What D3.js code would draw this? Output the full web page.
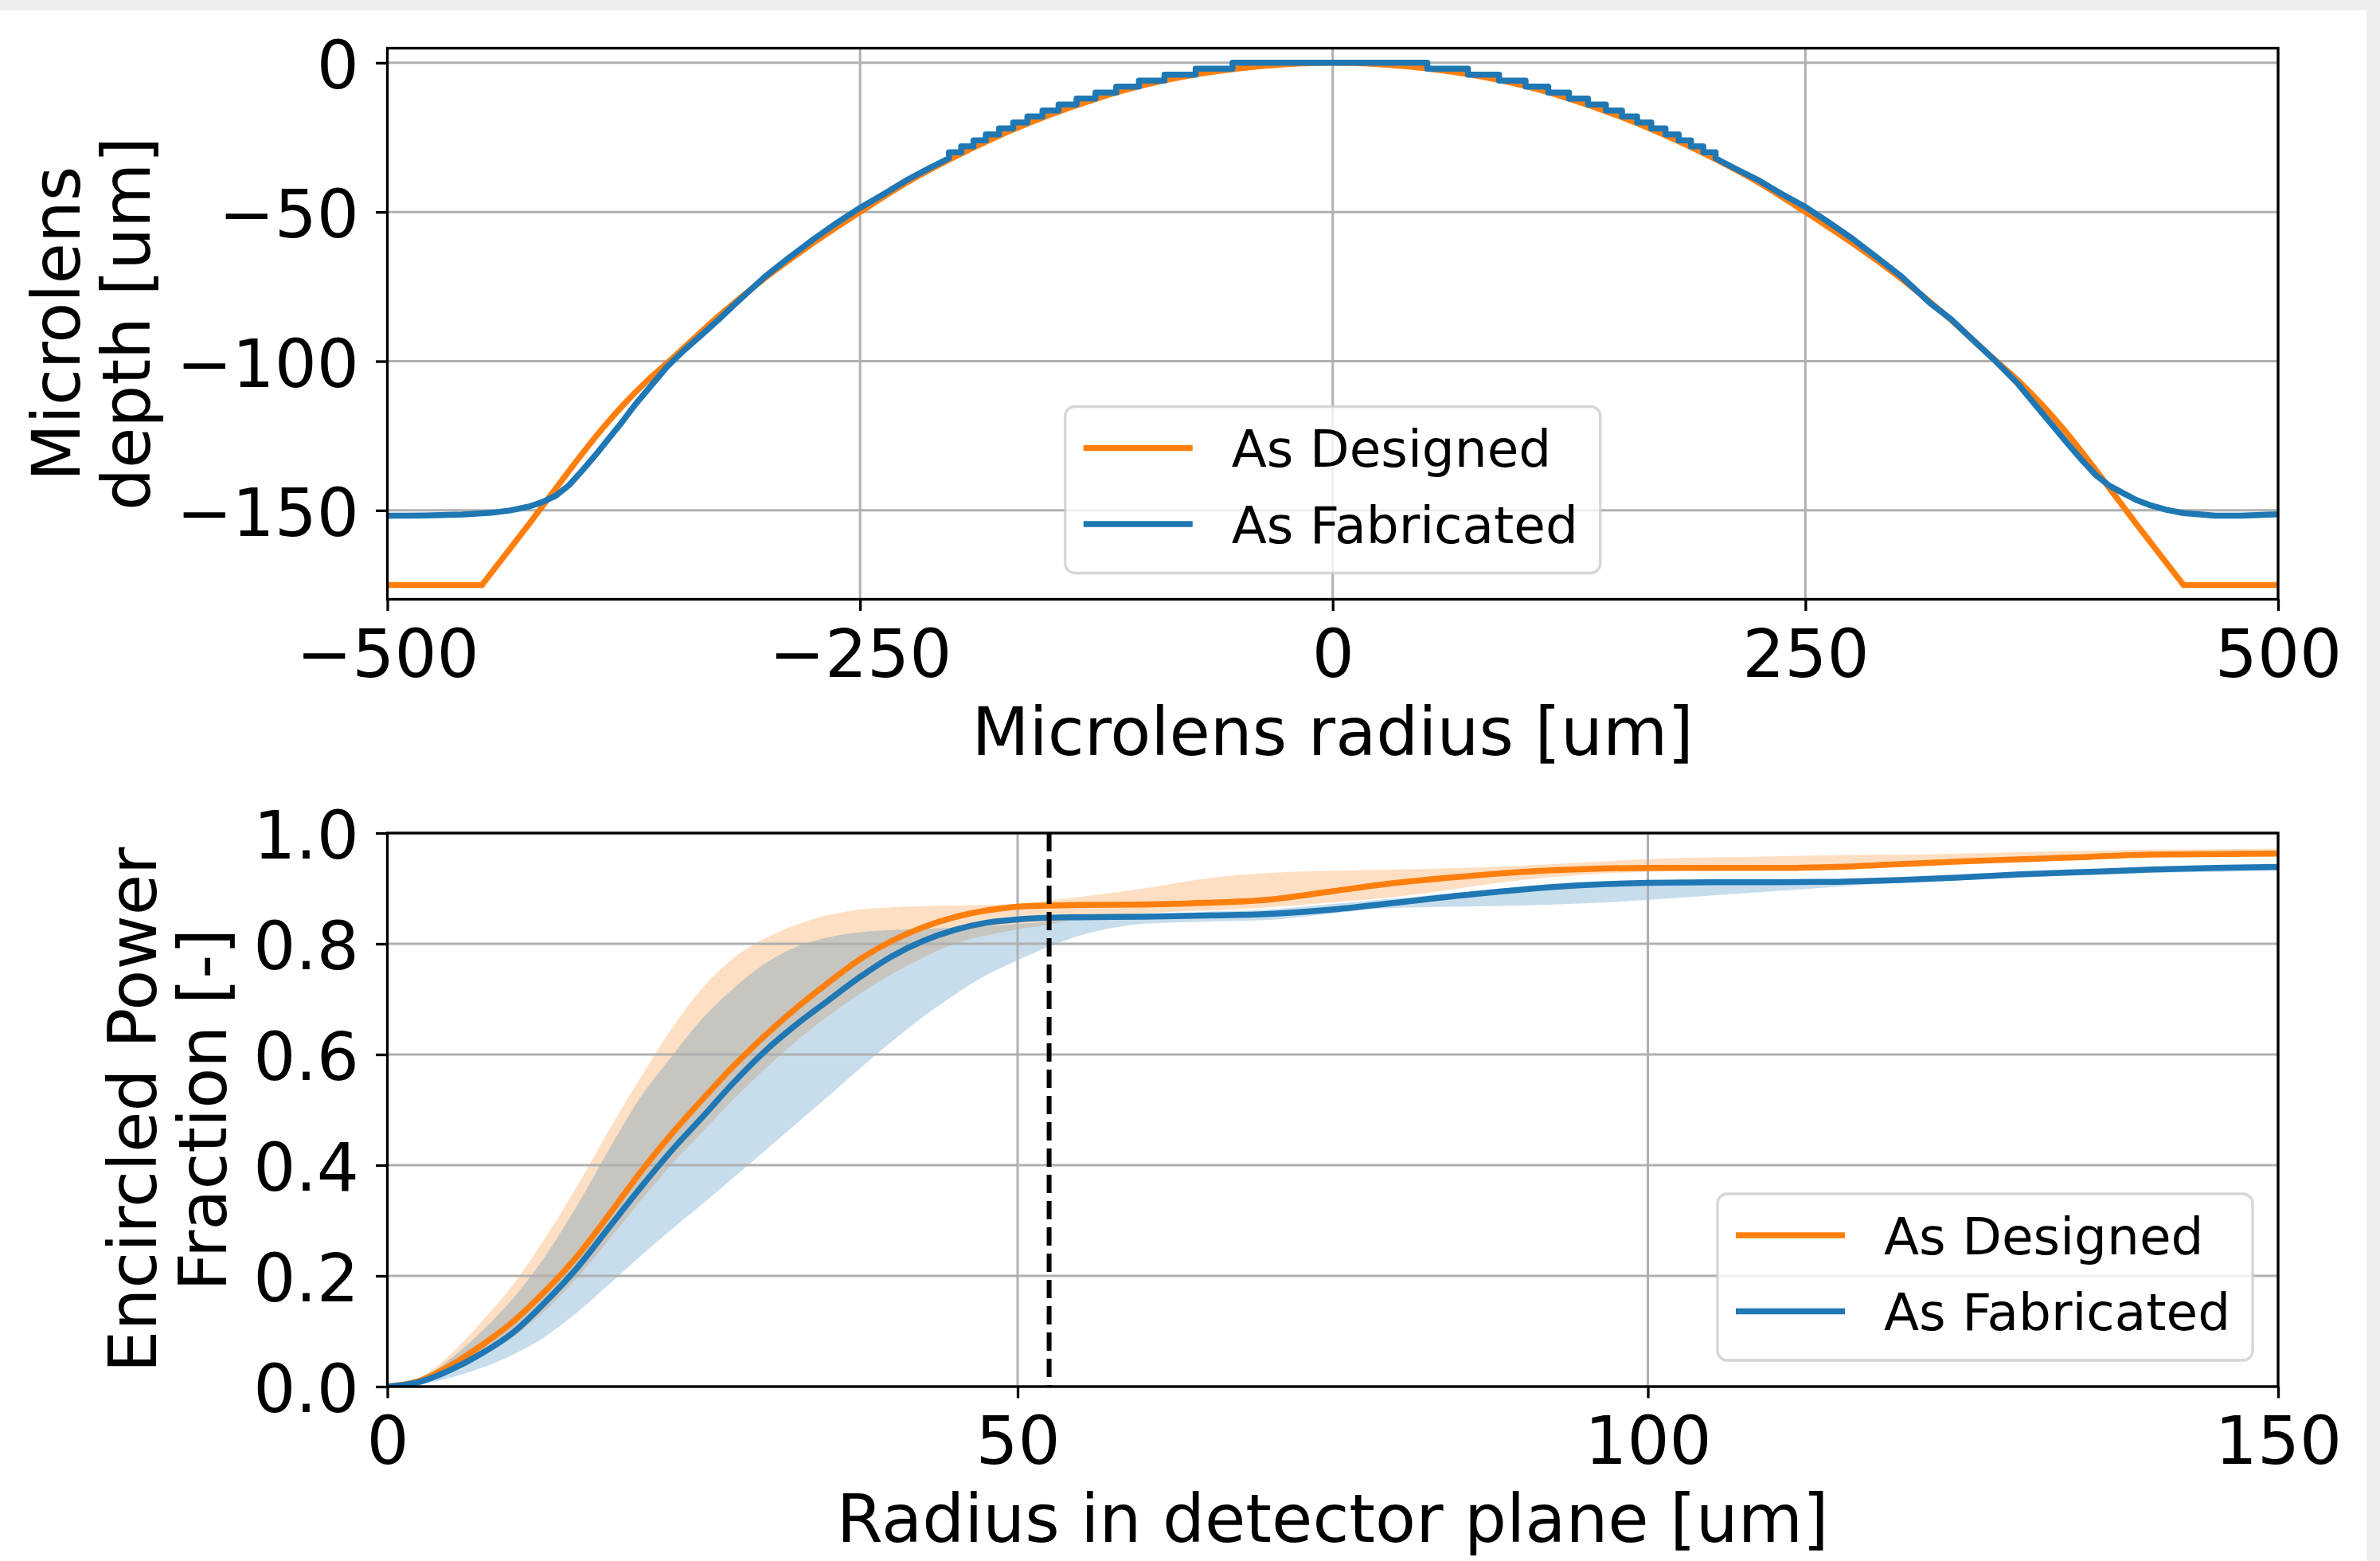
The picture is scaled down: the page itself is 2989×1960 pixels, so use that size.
<!DOCTYPE html>
<html><head><meta charset="utf-8">
<script src="https://cdn.jsdelivr.net/npm/d3@7"></script>
<style>html,body{margin:0;padding:0;background:#fff;} svg{display:block;} text{font-family:"DejaVu Sans",sans-serif;}</style>
</head><body>
<script>
// ---------------- DATA ----------------
// Top panel: microlens depth profile
const designR = [-500,-450,-437.5,-425,-412.5,-400,-387.5,-375,-362.5,-350,-325,-300,-275,-250,-225,-200,-175,-150,-125,-100,-75,-50,-25,0,25,50,75,100,125,150,175,200,225,250,275,300,325,350,362.5,375,387.5,400,412.5,425,437.5,450,500];
const designDepth = [-175,-175,-164.8,-154.5,-144,-133.5,-123.5,-114.5,-106.5,-99.5,-85,-72,-60.5,-50,-40,-31.5,-24,-17.5,-12,-7.5,-4.2,-1.9,-0.5,0,-0.5,-1.9,-4.2,-7.5,-12,-17.5,-24,-31.5,-40,-50,-60.5,-72,-85,-99.5,-106.5,-114.5,-123.5,-133.5,-144,-154.5,-164.8,-175,-175];

const fabR = [-500,-480,-460,-445,-435,-425,-418,-411,-404,-397,-390,-383,-376,-369,-360,-352,-343,-334,-325,-316,-300,-287,-275,-262,-250,-237,-225,-214,
  -203,-203,-196.5,-196.5,-190,-190,-183.5,-183.5,-176.5,-176.5,-169,-169,-161.5,-161.5,-153.5,-153.5,-145,-145,-135.5,-135.5,-125.5,-125.5,-114.5,-114.5,-102.5,-102.5,-89,-89,-72.5,-72.5,-53,-53,
  50,50,71.5,71.5,88,88,102,102,114,114,125,125,135,135,144.5,144.5,153,153,161,161,168.5,168.5,176,176,183,183,189.5,189.5,196,196,202.5,202.5,
  214,225,237,250,262,275,287,300,316,327,338,349.5,362,376,390,397,404,411,418,425,432,441,450,467,480,500];
const fabDepth = [-151.8,-151.7,-151.4,-150.8,-150,-148.7,-147.2,-145.1,-141.6,-136.7,-131.5,-126,-120.5,-114.6,-107.8,-101.8,-96.3,-91.3,-86.2,-80.8,-71.5,-65,-59.3,-53.5,-48.6,-43.8,-39.2,-35.5,
  -32,-30,-30,-28,-28,-26,-26,-24,-24,-22,-22,-20,-20,-18,-18,-16,-16,-14,-14,-12,-12,-10,-10,-8,-8,-6,-6,-4,-4,-2,-2,0,
  0,-2,-2,-4,-4,-6,-6,-8,-8,-10,-10,-12,-12,-14,-14,-16,-16,-18,-18,-20,-20,-22,-22,-24,-24,-26,-26,-28,-28,-30,-30,-32,
  -35.8,-39.3,-43.8,-48.3,-53.3,-59,-64.8,-71.2,-80.6,-85.9,-92.5,-99.3,-107.3,-118,-128.6,-133.7,-138.4,-141.8,-144.2,-146.5,-148.2,-149.8,-150.9,-151.8,-151.8,-151.3];

const topXTicks = [-500,-250,0,250,500];
const topYTicks = [0,-50,-100,-150];

// Bottom panel: encircled power fraction
const radius = [0,2.5,5,7.5,10,12.5,15,17.5,20,22.5,25,27.5,30,32.5,35,37.5,40,42.5,45,47.5,50,52.5,55,60,65,70,75,80,85,90,95,100,105,110,115,120,125,130,135,140,145,150];
const designedMean = [0,0.01,0.038,0.075,0.118,0.172,0.234,0.308,0.385,0.455,0.519,0.58,0.635,0.685,0.73,0.772,0.805,0.83,0.848,0.86,0.867,0.869,0.870,0.871,0.874,0.880,0.895,0.910,0.921,0.930,0.935,0.937,0.937,0.937,0.939,0.944,0.949,0.953,0.957,0.961,0.962,0.963];
const designedHigh = [0,0.015,0.058,0.118,0.185,0.268,0.36,0.46,0.555,0.645,0.72,0.775,0.81,0.835,0.852,0.862,0.866,0.868,0.869,0.87,0.872,0.878,0.885,0.90,0.918,0.928,0.932,0.934,0.937,0.941,0.947,0.953,0.956,0.958,0.96,0.961,0.963,0.966,0.968,0.970,0.971,0.972];
const designedLow = [0,0.006,0.025,0.055,0.09,0.137,0.195,0.263,0.333,0.40,0.46,0.52,0.575,0.625,0.67,0.71,0.745,0.775,0.80,0.815,0.826,0.835,0.845,0.855,0.86,0.866,0.875,0.885,0.90,0.915,0.925,0.93,0.932,0.933,0.935,0.94,0.945,0.95,0.954,0.957,0.958,0.959];
const fabricatedMean = [0,0.008,0.03,0.06,0.098,0.152,0.213,0.285,0.357,0.425,0.487,0.55,0.607,0.655,0.698,0.74,0.777,0.805,0.825,0.838,0.844,0.847,0.848,0.849,0.851,0.854,0.862,0.874,0.887,0.898,0.906,0.910,0.911,0.911,0.912,0.915,0.920,0.926,0.930,0.934,0.937,0.939];
const fabricatedHigh = [0,0.012,0.05,0.10,0.16,0.235,0.325,0.425,0.52,0.595,0.665,0.72,0.765,0.795,0.812,0.821,0.825,0.827,0.829,0.832,0.836,0.84,0.845,0.852,0.858,0.862,0.872,0.882,0.892,0.902,0.91,0.914,0.915,0.915,0.916,0.918,0.923,0.929,0.933,0.937,0.94,0.942];
const fabricatedLow = [0,0.004,0.016,0.034,0.058,0.09,0.133,0.183,0.234,0.283,0.33,0.378,0.427,0.476,0.525,0.575,0.623,0.668,0.708,0.743,0.77,0.795,0.815,0.836,0.84,0.843,0.855,0.865,0.867,0.869,0.873,0.879,0.887,0.895,0.903,0.91,0.915,0.92,0.924,0.928,0.93,0.932];
const markerRadius = 52.5;

const botXTicks = [0,50,100,150];
const botYTicks = [0,0.2,0.4,0.6,0.8,1.0];

const seriesNames = ["As Designed","As Fabricated"];
const seriesColors = ["#ff7f0e","#1f77b4"];

// ---------------- LAYOUT ----------------
const W = 2989, H = 1960;
const FS = 83.5, LFS = 64.5, LW = 7.5, GRIDW = 3, SPW = 3.3, TICKLEN = 14.5;
const topBox = {x0:486.5, x1:2861, y0:60.5, y1:752.5};
const botBox = {x0:486.5, x1:2861, y0:1046, y1:1741};

const svg = d3.select("body").append("svg").attr("width",W).attr("height",H);
svg.append("rect").attr("width",W).attr("height",H).attr("fill","#eeeeee");
svg.append("rect").attr("x",0).attr("y",13).attr("width",2972).attr("height",H-13).attr("fill","#ffffff");

const xTop = d3.scaleLinear([-500,500],[topBox.x0,topBox.x1]);
const yTop = d3.scaleLinear([-179.8,4.9],[topBox.y1,topBox.y0]);
const xBot = d3.scaleLinear([0,150],[botBox.x0,botBox.x1]);
const yBot = d3.scaleLinear([0,1],[botBox.y1,botBox.y0]);

const defs = svg.append("defs");
function clip(id, b){
  defs.append("clipPath").attr("id",id).append("rect").attr("x",b.x0).attr("y",b.y0).attr("width",b.x1-b.x0).attr("height",b.y1-b.y0);
}
clip("clipTop", topBox); clip("clipBot", botBox);

function grid(g, x, y, xt, yt, b){
  g.selectAll(".gx").data(xt).join("line").attr("x1",d=>x(d)).attr("x2",d=>x(d)).attr("y1",b.y0).attr("y2",b.y1)
    .attr("stroke","#b0b0b0").attr("stroke-width",GRIDW);
  g.selectAll(".gy").data(yt).join("line").attr("class","gy").attr("y1",d=>y(d)).attr("y2",d=>y(d)).attr("x1",b.x0).attr("x2",b.x1)
    .attr("stroke","#b0b0b0").attr("stroke-width",GRIDW);
}

function axes(x, y, xt, yt, b, xfmt, yfmt){
  const gx = svg.append("g").attr("transform",`translate(0,${b.y1})`)
    .call(d3.axisBottom(x).tickValues(xt).tickSize(TICKLEN).tickPadding(23.5).tickFormat(xfmt));
  const gy = svg.append("g").attr("transform",`translate(${b.x0},0)`)
    .call(d3.axisLeft(y).tickValues(yt).tickSize(TICKLEN).tickPadding(21).tickFormat(yfmt));
  [gx,gy].forEach(g=>{
    g.select(".domain").remove();
    g.attr("font-size",null).attr("font-family",null);
    g.selectAll(".tick line").attr("stroke","#000").attr("stroke-width",SPW);
    g.selectAll(".tick text").attr("fill","#000").style("font-size",FS+"px").style("font-family","DejaVu Sans");
  });
  gy.selectAll(".tick text").attr("dy","0.38em");
  svg.append("rect").attr("x",b.x0).attr("y",b.y0).attr("width",b.x1-b.x0).attr("height",b.y1-b.y0)
    .attr("fill","none").attr("stroke","#000").attr("stroke-width",SPW);
}

function ylabel(lines, b, base1, base2){
  const cy = (b.y0+b.y1)/2;
  [base1,base2].forEach((bx,i)=>{
    svg.append("text").attr("transform",`translate(${bx},${cy}) rotate(-90)`).attr("text-anchor","middle")
      .style("font-size",FS+"px").attr("fill","#000").text(lines[i]);
  });
}
function xlabel(t, b){
  svg.append("text").attr("x",(b.x0+b.x1)/2).attr("y",b.y1+195).attr("text-anchor","middle")
    .style("font-size",FS+"px").attr("fill","#000").text(t);
}

function legend(lx, ly){
  const g = svg.append("g").attr("transform",`translate(${lx},${ly})`);
  g.append("rect").attr("width",672).attr("height",209).attr("rx",12).attr("ry",12)
    .attr("fill","#fff").attr("fill-opacity",0.8).attr("stroke","#cccccc").attr("stroke-opacity",0.8).attr("stroke-width",3.3);
  seriesNames.forEach((n,i)=>{
    const yy = 52 + i*95.5;
    g.append("line").attr("x1",23).attr("x2",160).attr("y1",yy).attr("y2",yy).attr("stroke",seriesColors[i]).attr("stroke-width",LW);
    g.append("text").attr("x",209).attr("y",yy+23.5).style("font-size",LFS+"px").attr("fill","#000").text(n);
  });
}

// ---------------- TOP PANEL ----------------
const gTop = svg.append("g");
grid(gTop, xTop, yTop, topXTicks, topYTicks, topBox);
const topLines = gTop.append("g").attr("clip-path","url(#clipTop)");
// designed profile: flat rims drawn straight, curved lens surface smooth
const nD = designR.length;
const segs = [[0,1],[1,nD-2],[nD-2,nD-1]];
segs.forEach(([a,b],k)=>{
  const ids = d3.range(a,b+1);
  const ln = d3.line().x(i=>xTop(designR[i])).y(i=>yTop(designDepth[i])).curve(k===1?d3.curveMonotoneX:d3.curveLinear);
  topLines.append("path").attr("d",ln(ids)).attr("fill","none")
    .attr("stroke",seriesColors[0]).attr("stroke-width",LW).attr("stroke-linejoin","round").attr("stroke-linecap","round");
});
const lineFab = d3.line().x(i=>xTop(fabR[i])).y(i=>yTop(fabDepth[i]));
topLines.append("path").attr("d",lineFab(d3.range(fabR.length))).attr("fill","none")
  .attr("stroke",seriesColors[1]).attr("stroke-width",LW).attr("stroke-linejoin","round");
axes(xTop, yTop, topXTicks, topYTicks, topBox, d3.format("d"), d3.format("d"));
ylabel(["Microlens","depth [um]"], topBox, 100, 188);
xlabel("Microlens radius [um]", topBox);
legend((topBox.x0+topBox.x1)/2 - 336, topBox.y1 - 33 - 209);

// ---------------- BOTTOM PANEL ----------------
const gBot = svg.append("g");
const bands = gBot.append("g").attr("clip-path","url(#clipBot)");
const idx = d3.range(radius.length);
const areaD = d3.area().x(i=>xBot(radius[i])).y0(i=>yBot(designedLow[i])).y1(i=>yBot(designedHigh[i])).curve(d3.curveMonotoneX);
const areaF = d3.area().x(i=>xBot(radius[i])).y0(i=>yBot(fabricatedLow[i])).y1(i=>yBot(fabricatedHigh[i])).curve(d3.curveMonotoneX);
bands.append("path").attr("d",areaD(idx)).attr("fill",seriesColors[0]).attr("fill-opacity",0.25);
bands.append("path").attr("d",areaF(idx)).attr("fill",seriesColors[1]).attr("fill-opacity",0.25);
grid(gBot, xBot, yBot, botXTicks, botYTicks, botBox);
const botLines = gBot.append("g").attr("clip-path","url(#clipBot)");
const lD = d3.line().x(i=>xBot(radius[i])).y(i=>yBot(designedMean[i])).curve(d3.curveMonotoneX);
const lF = d3.line().x(i=>xBot(radius[i])).y(i=>yBot(fabricatedMean[i])).curve(d3.curveMonotoneX);
botLines.append("path").attr("d",lD(idx)).attr("fill","none").attr("stroke",seriesColors[0]).attr("stroke-width",LW);
botLines.append("path").attr("d",lF(idx)).attr("fill","none").attr("stroke",seriesColors[1]).attr("stroke-width",LW);
botLines.append("line").attr("x1",xBot(markerRadius)).attr("x2",xBot(markerRadius)).attr("y1",botBox.y0).attr("y2",botBox.y1)
  .attr("stroke","#000").attr("stroke-width",6).attr("stroke-dasharray","23,10");
axes(xBot, yBot, botXTicks, botYTicks, botBox, d3.format("d"), d3.format(".1f"));
ylabel(["Encircled Power","Fraction [-]"], botBox, 196, 284);
xlabel("Radius in detector plane [um]", botBox);
legend(botBox.x1 - 32 - 672, botBox.y1 - 33 - 209);
</script>
</body></html>
